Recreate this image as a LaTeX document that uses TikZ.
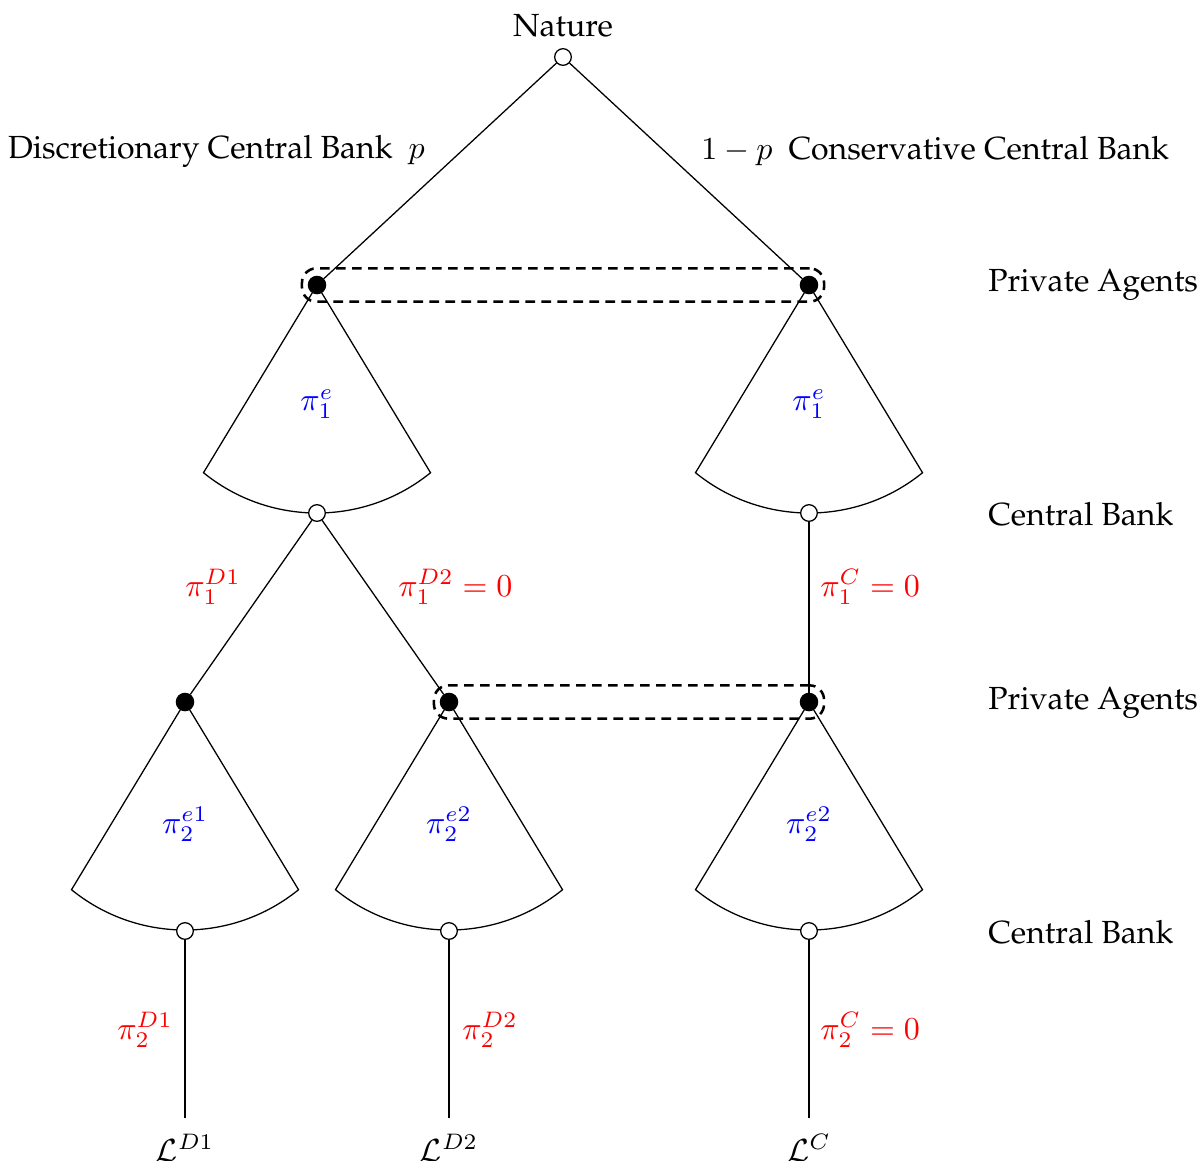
\documentclass[tikz,border=0pt]{standalone}
\usepackage[T1]{fontenc}
\usepackage{palatino}
\usetikzlibrary{positioning,fit,backgrounds}
\tikzset{
  chance/.style={circle, draw, fill=white, inner sep=0pt, minimum size=5.2pt},
  decision/.style={circle, draw, fill=black, inner sep=0pt, minimum size=5.4pt},
  infoset/.style={draw, thick, dash pattern=on 3pt off 2pt, rounded corners=4.5pt,
    inner xsep=1.8pt, inner ysep=2.3pt},
  guess/.style={text=blue},
  choice/.style={text=red},
  player/.style={anchor=west},
}
% fan of continuous choices below a node
\newcommand{\drawfan}[1]{%
  \draw (#1.center) -- ++(-113.5,-187.7)
    arc[start angle=230.9, end angle=309.1, radius=180] -- (#1.center);}

\begin{document}
\begin{tikzpicture}[x=0.3125pt, y=0.3125pt]
  \useasboundingbox (0,0) rectangle (1198,-1160);
  % tree nodes
  \node[chance] (nat) at (563,-57) {};
  \node[above=0pt of nat] (natlbl) {Nature};
  \node[decision] (a1) at (317,-285) {};
  \node[decision] (a2) at (809,-285) {};
  \node[chance] (b1) at (317,-513) {};
  \node[chance] (b2) at (809,-513) {};
  \node[decision] (c1) at (185,-702) {};
  \node[decision] (c2) at (449,-702) {};
  \node[decision] (c3) at (809,-702) {};
  \node[chance] (d1) at (185,-931) {};
  \node[chance] (d2) at (449,-931) {};
  \node[chance] (d3) at (809,-931) {};
  \coordinate (e1) at (185,-1118);
  \coordinate (e2) at (449,-1118);
  \coordinate (e3) at (809,-1118);
  % information sets
  \node[infoset, fit=(a1)(a2)] (set1) {};
  \node[infoset, fit=(c2)(c3)] (set2) {};
  % branches
  \begin{scope}[on background layer]
    \draw (nat) -- (a1);
    \draw (nat) -- (a2);
    \foreach \n in {a1,a2,c1,c2,c3} {\drawfan{\n}}
    \draw (b1) -- (c1);
    \draw (b1) -- (c2);
    \draw (b2) -- (c3);
    \draw (d1) -- (e1);
    \draw (d2) -- (e2);
    \draw (d3) -- (e3);
  \end{scope}
  % types of central bank
  \node[anchor=east] (dcb) at (436,-151) {Discretionary Central Bank\enspace$p$};
  \node[anchor=west] (ccb) at (690,-151) {$1-p$\enspace Conservative Central Bank};
  % players
  \node[player] (pa1) at (977,-285) {Private Agents};
  \node[player] (cb1) at (977,-514) {Central Bank};
  \node[player] (pa2) at (977,-703) {Private Agents};
  \node[player] (cb2) at (977,-932) {Central Bank};
  % expectations
  \node[guess] (g1) at (317,-404) {$\pi_1^e$};
  \node[guess] (g2) at (809,-404) {$\pi_1^e$};
  \node[guess] (g3) at (185,-824) {$\pi_2^{e1}$};
  \node[guess] (g4) at (449,-824) {$\pi_2^{e2}$};
  \node[guess] (g5) at (809,-824) {$\pi_2^{e2}$};
  % inflation choices
  \node[choice, anchor=east] (r1) at (252,-587) {$\pi_1^{D1}$};
  \node[choice, anchor=west] (r2) at (387,-587) {$\pi_1^{D2}=0$};
  \node[choice, anchor=west] (r3) at (809,-587) {$\pi_1^{C}=0$};
  \node[choice, anchor=east] (r4) at (184,-1030) {$\pi_2^{D1}$};
  \node[choice, anchor=west] (r5) at (451,-1030) {$\pi_2^{D2}$};
  \node[choice, anchor=west] (r6) at (809,-1030) {$\pi_2^{C}=0$};
  % losses
  \node[below=1.5pt of e1] (l1) {$\mathcal{L}^{D1}$};
  \node[below=1.5pt of e2] (l2) {$\mathcal{L}^{D2}$};
  \node[below=1.5pt of e3] (l3) {$\mathcal{L}^{C}$};
\end{tikzpicture}
\end{document}
